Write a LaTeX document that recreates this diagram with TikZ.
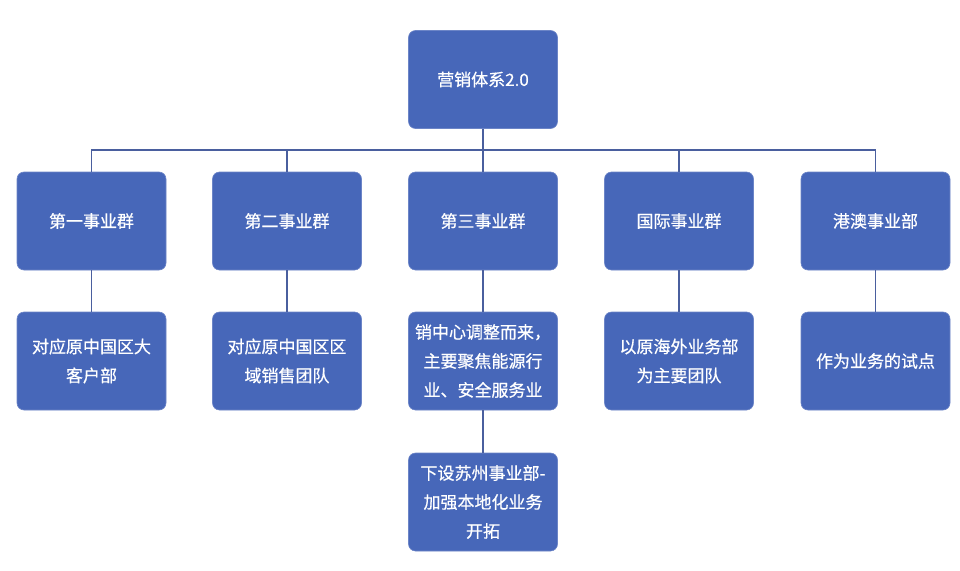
\documentclass[tikz,border=0pt]{standalone}
\usepackage{fontspec}
\setmainfont{Noto Sans CJK SC}[FakeBold=0.6]
\definecolor{boxblue}{HTML}{4767B9}
\definecolor{lineblue}{HTML}{4A5F9E}
\begin{document}
\begin{tikzpicture}[x=1pt,y=-1pt,
  box/.style={draw=boxblue!80!white,line width=0.6pt,fill=boxblue,rounded corners=7pt,minimum width=149pt,minimum height=98pt,inner sep=0pt,align=center,text=white,font=\fontsize{17}{29}\selectfont},
  link/.style={draw=lineblue,line width=1.5pt}]
\useasboundingbox (0,0) rectangle (960,570);
\node[box] (root) at (483,79.5) {营销体系2.0};
\node[box] (g1) at (91.5,221) {第一事业群};
\node[box] (g2) at (287,221) {第二事业群};
\node[box] (g3) at (483,221) {第三事业群};
\node[box] (g4) at (679,221) {国际事业群};
\node[box] (g5) at (875.5,221) {港澳事业部};
\node[box] (d1) at (91.5,361) {对应原中国区大\\客户部};
\node[box] (d2) at (287,361) {对应原中国区区\\域销售团队};
\node[box] (d3) at (483,361) {销中心调整而来，\\主要聚焦能源行\\业、安全服务业};
\node[box] (d4) at (679,361) {以原海外业务部\\为主要团队};
\node[box] (d5) at (875.5,361) {作为业务的试点};
\node[box] (s3) at (483,502) {下设苏州事业部-\\加强本地化业务\\开拓};
\coordinate (bus) at (483,150);
\draw[link] (root.south) -- (bus);
\draw[link] (bus) -| (g1.north);
\draw[link] (bus) -| (g2.north);
\draw[link] (bus) -- (g3.north);
\draw[link] (bus) -| (g4.north);
\draw[link] (bus) -| (g5.north);
\draw[link] (g1.south) -- (d1.north);
\draw[link] (g2.south) -- (d2.north);
\draw[link] (g3.south) -- (d3.north);
\draw[link] (g4.south) -- (d4.north);
\draw[link] (g5.south) -- (d5.north);
\draw[link] (d3.south) -- (s3.north);
\end{tikzpicture}
\end{document}
